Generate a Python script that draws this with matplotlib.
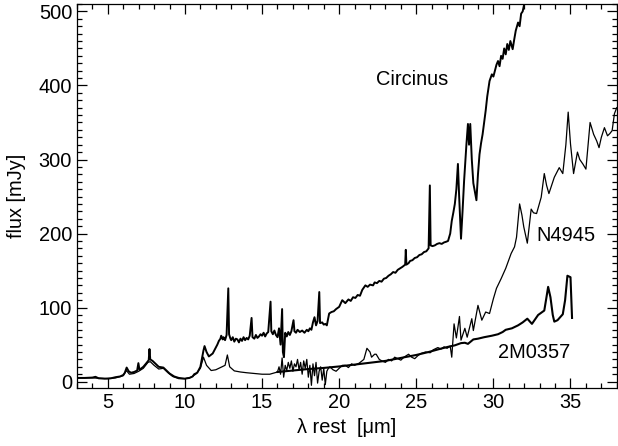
import numpy as np
import matplotlib
matplotlib.use("Agg")
from matplotlib import pyplot as plt
from matplotlib.ticker import MultipleLocator

plt.rcParams['font.family'] = ['Liberation Sans', 'DejaVu Sans']
plt.rcParams['xtick.direction'] = plt.rcParams['ytick.direction'] = "in"

# Circinus spectrum (wavelength in micron, flux in mJy)
circ_wave = [3.0, 3.5, 4.0, 4.2, 4.4, 4.8, 5.2, 5.5, 5.8, 6.0, 6.1, 6.22, 6.35, 6.5, 6.7, 6.9,
             6.98, 7.05, 7.3, 7.5, 7.65, 7.7, 7.75, 7.9, 8.1, 8.3, 8.6, 8.8, 9.0, 9.3, 9.6, 10.0,
             10.3, 10.5, 10.6, 10.8, 11.0, 11.2, 11.27, 11.4, 11.55, 11.8, 12.0, 12.1, 12.2, 12.3,
             12.35, 12.45, 12.5, 12.6, 12.7, 12.81, 12.86, 12.95, 13.0, 13.1, 13.2, 13.3, 13.4,
             13.5, 13.6, 13.7, 13.8, 13.9, 14.0, 14.1, 14.2, 14.32, 14.38, 14.5, 14.6, 14.7, 14.8,
             14.9, 15.0, 15.1, 15.2, 15.3, 15.4, 15.55, 15.6, 15.7, 15.8, 15.9, 16.0, 16.1, 16.2,
             16.3, 16.35, 16.42, 16.5, 16.6, 16.7, 16.8, 16.9, 17.04, 17.1, 17.2, 17.3, 17.45,
             17.6, 17.75, 17.9, 18.0, 18.1, 18.2, 18.3, 18.4, 18.5, 18.6, 18.71, 18.76, 18.9,
             19.0, 19.1, 19.2, 19.35, 19.5, 19.65, 19.8, 20.0, 20.2, 20.4, 20.6, 20.75, 20.9,
             21.05, 21.2, 21.35, 21.5, 21.7, 21.85, 22.0, 22.2, 22.3, 22.45, 22.6, 22.75, 22.9,
             23.05, 23.2, 23.35, 23.5, 23.65, 23.8, 23.95, 24.1, 24.28, 24.32, 24.36, 24.5,
             24.6, 24.75, 24.9, 25.05, 25.2, 25.35, 25.5, 25.65, 25.8, 25.88, 25.93, 26.05,
             26.2, 26.35, 26.5, 26.65, 26.8, 26.95, 27.06, 27.2, 27.3, 27.4, 27.5, 27.6, 27.7,
             27.78, 27.9, 28.0, 28.1, 28.25, 28.35, 28.42, 28.5, 28.6, 28.7, 28.9, 29.0, 29.1,
             29.2, 29.3, 29.4, 29.5, 29.6, 29.75, 29.9, 30.0, 30.1, 30.2, 30.3, 30.4, 30.5,
             30.6, 30.7, 30.8, 30.9, 31.0, 31.1, 31.25, 31.35, 31.45, 31.6, 31.7, 31.8, 31.9,
             32.0, 32.1]
circ_flux = [5, 5, 5.5, 6.5, 4.5, 4, 4.5, 6, 7, 9, 12, 19, 14, 12, 13, 15,
             25, 16, 20, 25, 29, 44, 30, 28, 24, 20, 19, 15, 11, 7, 5, 4,
             5, 7, 10, 12, 20, 42, 48, 40, 34, 38, 46, 50, 55, 58,
             62, 57, 60, 56, 63, 126, 64, 58, 56, 60, 54, 58, 57,
             53, 58, 55, 60, 56, 59, 57, 62, 86, 60, 58, 63, 59, 61,
             64, 62, 66, 61, 65, 67, 108, 68, 64, 69, 63, 60, 72, 50,
             98, 40, 33, 66, 61, 67, 63, 68, 83, 68, 66, 70, 67,
             69, 66, 70, 68, 72, 70, 80, 87, 76, 82, 121, 79, 80,
             77, 78, 76, 92, 94, 95, 98, 101, 110, 106, 111, 109, 114,
             113, 117, 116, 124, 130, 128, 131, 130, 134, 133, 136, 135, 139,
             140, 143, 145, 148, 147, 151, 153, 155, 158, 178, 158, 160,
             163, 164, 167, 168, 171, 172, 175, 176, 180, 265, 184, 183,
             184, 186, 187, 186, 188, 189, 190, 200, 217, 228, 240, 260, 294,
             250, 193, 230, 271, 320, 348, 320, 348, 300, 268, 245, 280, 307,
             322, 334, 350, 366, 385, 406, 415, 412, 420, 428, 433, 426, 440,
             436, 450, 442, 456, 448, 460, 449, 462, 474, 485, 480, 497, 500,
             510, 520]

# NGC 4945 spectrum
n4945_wave = [3.0, 3.5, 4.0, 4.5, 5.0, 5.5, 6.0, 6.2, 6.4, 6.7, 7.0, 7.3, 7.6, 7.75, 8.0, 8.3,
              8.6, 8.9, 9.2, 9.6, 10.0, 10.4, 10.7, 11.0, 11.2, 11.4, 11.7, 12.0, 12.3, 12.6,
              12.75, 12.9, 13.2, 13.6, 14.0, 14.5, 15.0, 15.5, 16.0, 16.1, 16.2, 16.3, 16.4,
              16.5, 16.6, 16.7, 16.8, 16.9, 17.0, 17.1, 17.2, 17.3, 17.4, 17.5, 17.6, 17.7,
              17.8, 17.9, 18.0, 18.1, 18.2, 18.3, 18.4, 18.5, 18.6, 18.7, 18.8, 18.9, 19.0,
              19.1, 19.2, 19.3, 19.4, 19.6, 19.8, 20.0, 20.2, 20.4, 20.6, 20.8, 21.0, 21.3,
              21.6, 21.8, 22.0, 22.1, 22.3, 22.4, 22.6, 22.8, 23.0, 23.2, 23.4, 23.6, 23.8,
              24.0, 24.2, 24.5, 24.7, 24.9, 25.1, 25.3, 25.6, 25.9, 26.1, 26.4, 26.6, 26.8,
              27.0, 27.2, 27.3, 27.45, 27.6, 27.8, 27.9, 28.15, 28.3, 28.6, 28.7, 29.0, 29.25,
              29.5, 29.75, 30.0, 30.2, 30.5, 30.8, 31.15, 31.37, 31.5, 31.7, 31.85, 31.97,
              32.2, 32.45, 32.6, 32.8, 33.1, 33.3, 33.45, 33.6, 33.95, 34.1, 34.27, 34.5,
              34.7, 34.85, 35.0, 35.2, 35.45, 35.6, 35.8, 36.0, 36.27, 36.5, 36.7, 36.85,
              37.0, 37.2, 37.4, 37.55, 37.7, 37.85, 38.0]
n4945_flux = [5, 5, 5, 4.5, 4, 5, 8, 15, 10, 11, 14, 18, 26, 27, 22, 17,
              18, 12, 7, 4, 4, 6, 10, 18, 33, 22, 15, 16, 19, 22,
              36, 20, 14.5, 13, 12, 11, 10, 10, 13, 20, 10, 32, 6,
              22, 15, 26, 18, 28, 14, 24, 20, 30, 16, 26, 10, 28,
              18, 30, 6, 22, -5, 24, 8, 26, -2, 14, 20, 2, 18,
              -4, 14, 18, 20, 16, 14, 18, 22, 22, 19, 24, 22, 25,
              30, 45, 40, 33, 37, 37, 30, 27.6, 26, 30, 28, 33, 31,
              29, 33, 37, 33, 31, 35, 38, 40, 39, 43, 46, 44, 47,
              45, 48, 33, 78, 59, 88, 56, 72, 60, 85, 69, 103, 83,
              94, 92, 112, 126, 139, 153, 173, 182, 195, 240, 225, 209,
              187, 233, 228, 227, 249, 281, 265, 254, 276, 282, 289, 281,
              320, 364, 321, 281, 310, 300, 294, 287, 350, 334, 325, 316,
              330, 343, 332, 335, 339, 362, 370]

# 2MASX J0357 spectrum
j0357_wave = [16.0, 17.0, 18.0, 19.0, 20.0, 21.0, 22.0, 23.0, 24.0, 25.0, 25.8, 26.5, 27.06,
              27.5, 27.9, 28.15, 28.35, 28.7, 29.0, 29.4, 29.9, 30.3, 30.6, 30.8, 31.2, 31.6,
              31.9, 32.2, 32.5, 32.9, 33.3, 33.45, 33.55, 33.7, 33.85, 33.95, 34.16, 34.5,
              34.65, 34.8, 35.0, 35.1]
j0357_flux = [13, 15, 17, 18.5, 20.5, 23, 25.5, 28, 32, 36, 40, 44, 47,
              49, 52, 52.5, 51, 57, 58, 60, 62, 64, 67, 70, 72, 76,
              80, 85, 78, 90, 96, 115, 128, 114, 90, 81, 83, 91,
              110, 143, 141, 86]

fig = plt.figure(figsize=(6.18, 4.46), dpi=100)
ax = fig.add_axes([0.1246, 0.1294, 0.8734, 0.8616])

ax.plot(circ_wave, circ_flux, c='k', lw=1.4)
ax.plot(n4945_wave, n4945_flux, c='k', lw=0.9)
ax.plot(j0357_wave, j0357_flux, c='k', lw=1.5)

ax.set_xlim(3, 38)
ax.set_ylim(-9, 510)
ax.xaxis.set_major_locator(MultipleLocator(5))
ax.xaxis.set_minor_locator(MultipleLocator(1))
ax.yaxis.set_major_locator(MultipleLocator(100))
ax.yaxis.set_minor_locator(MultipleLocator(10))
ax.tick_params(which='both', top=True, right=True, labelsize=14.4, width=0.9)
ax.tick_params(which='major', length=7)
ax.tick_params(which='minor', length=3.5)
for sp in ax.spines.values():
    sp.set_linewidth(0.9)

ax.text(24.7, 408, "Circinus", fontsize=14.4, ha='center', va='center')
ax.text(32.8, 197, "N4945", fontsize=14.4, ha='left', va='center')
ax.text(30.3, 40, "2M0357", fontsize=14.4, ha='left', va='center')

ax.set_xlabel("λ rest  [μm]", fontsize=14.4, labelpad=4.5)
ax.set_ylabel("flux [mJy]", fontsize=14.4, labelpad=9)

fig.savefig("out.png", dpi=100)
